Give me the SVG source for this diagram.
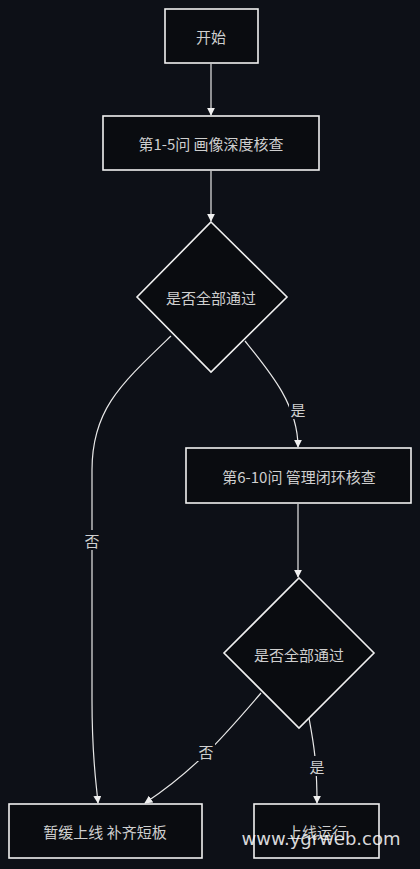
<svg xmlns="http://www.w3.org/2000/svg" width="420" height="869" viewBox="0 0 420 869">
<defs>
<marker id="arr" viewBox="0 0 10 10" refX="9" refY="5" markerWidth="8" markerHeight="8" orient="auto-start-reverse" markerUnits="userSpaceOnUse">
<path d="M0,0 L10,5 L0,10 z" fill="#f0f0f0"/>
</marker>
<style>
.n{fill:#0a0c10;stroke:#f0f0f0;stroke-width:1.6}
.t{font-family:"Noto Sans CJK SC","Noto Sans",sans-serif;font-size:15px;fill:#cfcfcf;text-anchor:middle;dominant-baseline:central}
.e{fill:none;stroke:#e8e8e8;stroke-width:1.2;marker-end:url(#arr)}
.lb{fill:#0d1017}
</style>
</defs>
<rect width="420" height="869" fill="#0d1017"/>
<g id="connectors">
<path class="e" d="M211,64 L211,115"/>
<path class="e" d="M211,171 L211,221"/>
<path class="e" d="M245,341 C270,372 298,405 298,447"/>
<path class="e" d="M171,336 C120,385 92,410 92,470 L92,700 C92,760 96,780 98,803"/>
<path class="e" d="M298,504 L298,577"/>
<path class="e" d="M261,693 C225,735 195,770 145,803"/>
<path class="e" d="M309,718 C313,740 317,760 317,803"/>
<rect class="lb" x="289" y="399" width="18" height="20"/>
<text class="t" x="298" y="409">是</text>
<rect class="lb" x="83" y="530" width="18" height="20"/>
<text class="t" x="92" y="540">否</text>
<rect class="lb" x="197" y="741" width="18" height="20"/>
<text class="t" x="206" y="751">否</text>
<rect class="lb" x="308" y="756" width="18" height="20"/>
<text class="t" x="317" y="766">是</text>
</g>
<g id="start">
<rect class="n" x="165" y="9" width="93" height="54"/>
<text class="t" x="211" y="36">开始</text>
</g>
<g id="check1">
<rect class="n" x="103" y="116" width="216" height="54"/>
<text class="t" x="211" y="143">第1-5问 画像深度核查</text>
</g>
<g id="decision1">
<path class="n" d="M211,222 L287,297 L211,372 L137,297 Z"/>
<text class="t" x="211" y="297">是否全部通过</text>
</g>
<g id="check2">
<rect class="n" x="186" y="448" width="225" height="55"/>
<text class="t" x="299" y="476">第6-10问 管理闭环核查</text>
</g>
<g id="decision2">
<path class="n" d="M299,578 L374,653 L299,728 L224,653 Z"/>
<text class="t" x="299" y="654">是否全部通过</text>
</g>
<g id="postpone">
<rect class="n" x="9" y="804" width="193" height="54"/>
<text class="t" x="105" y="831">暂缓上线 补齐短板</text>
</g>
<g id="launch">
<rect class="n" x="254" y="804" width="125" height="54"/>
<text class="t" x="317" y="831">上线运行</text>
</g>
<text x="321" y="838" font-family="'DejaVu Sans',sans-serif" font-size="18" fill="#ffffff" fill-opacity="0.85" text-anchor="middle" dominant-baseline="central">www.ygrweb.com</text>
</svg>
